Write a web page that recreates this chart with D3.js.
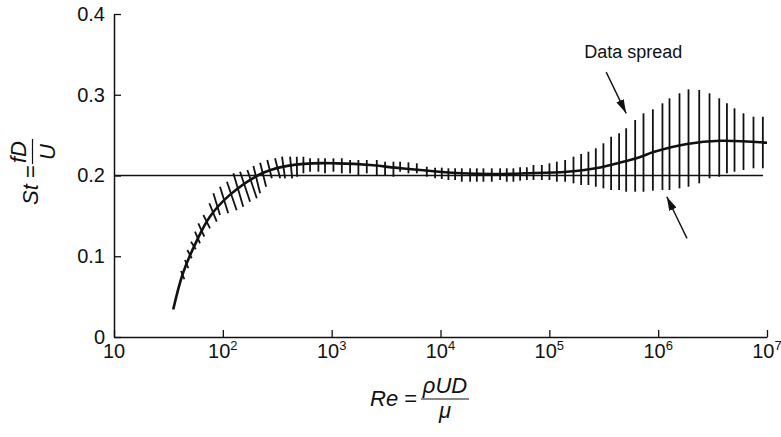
<!DOCTYPE html>
<html>
<head>
<meta charset="utf-8">
<script src="https://cdn.jsdelivr.net/npm/d3@7"></script>
<style>
  html, body { margin: 0; padding: 0; background: #fff; }
  svg text { font-family: "Liberation Sans", Arial, Helvetica, sans-serif; fill: #111; }
</style>
</head>
<body>
<svg id="chart"></svg>
<script>
// mean Strouhal curve
const curveRe = [35, 43, 58, 76, 116, 220, 360, 675, 1110, 2250, 3830, 6500, 15700, 31800, 60000, 145000, 293000, 448000, 684000, 906000, 1.84e6, 3.72e6, 1e7];
const curveSt = [0.034, 0.079, 0.12, 0.149, 0.176, 0.2015, 0.211, 0.215, 0.215, 0.213, 0.2097, 0.2068, 0.2027, 0.2019, 0.2027, 0.2047, 0.21, 0.216, 0.223, 0.229, 0.239, 0.243, 0.2406];

// reference line St = 0.2
const refRe = [10, 9.2e6];
const refSt = [0.2, 0.2];

// data spread strokes: Re and St at the lower and upper ends
const hatchReLo = [44.3, 48.2, 51.8, 56.4, 61.7, 67.6, 76.2, 87.9, 94.2, 112, 134, 154, 178, 205, 220, 250, 282,
  336, 373, 433, 481, 550, 633, 755, 869, 1038, 1239, 1477, 1760, 2102, 2597, 3096, 3694,
  4256, 5074, 6058, 7483, 8920, 10270, 11820, 13620, 15690, 18720, 21560, 24790, 29580, 35300,
  40640, 46750, 53890, 62140, 71500, 85340, 100200, 117200, 139700, 166700, 196000, 228600, 267300, 314000, 369600, 437700,
  508200, 614800, 733100, 893900, 1.095e6, 1.271e6, 1.57e6, 1.9e6, 2.384e6, 2.964e6, 3.641e6, 4.283e6, 5.029e6, 6.081e6, 7.513e6, 9.16e6];
const hatchReHi = [41.3, 44.9, 47.2, 51.0, 55.5, 59.5, 66.2, 75.2, 81.8, 94.2, 109, 125, 144, 168, 191, 220, 256,
  302, 350, 415, 478, 550, 633, 755, 869, 1038, 1239, 1477, 1760, 2102, 2597, 3096, 3694,
  4256, 5074, 6058, 7483, 8920, 10270, 11820, 13620, 15690, 18720, 21560, 24790, 29580, 35300,
  40640, 46750, 53890, 62140, 71500, 85340, 100200, 117200, 139700, 166700, 196000, 228600, 267300, 314000, 369600, 437700,
  508200, 614800, 733100, 893900, 1.095e6, 1.271e6, 1.57e6, 1.9e6, 2.384e6, 2.964e6, 3.641e6, 4.283e6, 5.029e6, 6.081e6, 7.513e6, 9.16e6];
const hatchStLo = [0.0715, 0.0851, 0.0975, 0.1086, 0.116, 0.1242, 0.1346, 0.1428, 0.151, 0.1532, 0.157, 0.1614, 0.1676, 0.1718, 0.178, 0.1861, 0.1965,
  0.1965, 0.1965, 0.1965, 0.1985, 0.2027, 0.2047, 0.2047, 0.2027, 0.2047, 0.2027, 0.2027, 0.2006, 0.2027, 0.2006, 0.2006, 0.1985,
  0.2047, 0.2027, 0.2027, 0.1985, 0.1965, 0.1957, 0.1944, 0.1944, 0.1923, 0.1923, 0.1923, 0.1923, 0.1923, 0.1944,
  0.1923, 0.1923, 0.1936, 0.1944, 0.1944, 0.1944, 0.1944, 0.1923, 0.1923, 0.1903, 0.1882, 0.1882, 0.1861, 0.1841, 0.182, 0.182,
  0.1799, 0.1799, 0.1799, 0.1812, 0.182, 0.182, 0.1841, 0.1861, 0.1903, 0.1965, 0.1985, 0.2027, 0.2047, 0.2068, 0.2089, 0.2089];
const hatchStHi = [0.0817, 0.0954, 0.1077, 0.118, 0.1304, 0.1408, 0.1511, 0.1656, 0.178, 0.1861, 0.1923, 0.2027, 0.2047, 0.2068, 0.2118, 0.2159, 0.2192,
  0.2213, 0.2233, 0.2233, 0.2233, 0.2233, 0.2213, 0.2213, 0.2213, 0.2213, 0.2213, 0.2192, 0.2192, 0.2192, 0.2192, 0.2171, 0.2171,
  0.2171, 0.2163, 0.2151, 0.2109, 0.2097, 0.2097, 0.2089, 0.2089, 0.2089, 0.2089, 0.2089, 0.2089, 0.2089, 0.2089,
  0.2089, 0.2089, 0.2102, 0.2102, 0.213, 0.213, 0.2151, 0.2171, 0.2192, 0.2233, 0.2266, 0.2295, 0.2337, 0.2399, 0.248, 0.2523,
  0.2585, 0.2687, 0.277, 0.282, 0.2894, 0.2956, 0.3018, 0.3067, 0.3059, 0.3018, 0.2956, 0.2894, 0.2832, 0.277, 0.2728, 0.2728];

// axes ticks
const xTicks = [10, 1e2, 1e3, 1e4, 1e5, 1e6, 1e7];
const yTicks = [0, 0.1, 0.2, 0.3, 0.4];

// annotation: arrows (start -> tip) and label
const arrowFromRe = [3.33e5, 1.84e6];
const arrowFromSt = [0.328, 0.1222];
const arrowToRe = [5.08e5, 1.2e6];
const arrowToSt = [0.277, 0.1737];
const noteText = "Data spread";
const noteRe = 2.09e5;
const noteSt = 0.3455;

const width = 781;
const height = 437;
const svg = d3.select("#chart").attr("width", width).attr("height", height);

const x = d3.scaleLog().domain([10, 1e7]).range([114, 767]);
const y = d3.scaleLinear().domain([0, 0.4]).range([337, 14]);

const fontSize = 20;
const labelSize = 22;

// x axis
const xAxis = svg.append("g")
  .attr("transform", `translate(0,${y(0)})`)
  .call(d3.axisBottom(x).tickValues(xTicks).tickSize(-7).tickSizeOuter(0).tickFormat(""));
xAxis.select(".domain").attr("stroke", "#111").attr("stroke-width", 1.5);
xAxis.selectAll(".tick line").attr("stroke", "#111").attr("stroke-width", 1.3);

// x tick labels with superscripts
xTicks.forEach((t) => {
  const e = Math.round(Math.log10(t));
  const txt = svg.append("text")
    .attr("x", x(t))
    .attr("y", y(0) + 21)
    .attr("text-anchor", "middle")
    .style("font-size", fontSize + "px");
  txt.append("tspan").text("10");
  if (e > 1) txt.append("tspan").attr("dy", -8).style("font-size", "13px").text(e);
});

// y axis
const yAxis = svg.append("g")
  .attr("transform", `translate(${x(10)},0)`)
  .call(d3.axisLeft(y).tickValues(yTicks).tickSize(-7).tickSizeOuter(0).tickPadding(9)
    .tickFormat((d) => (d === 0 ? "0" : d.toFixed(1))));
yAxis.select(".domain").attr("stroke", "#111").attr("stroke-width", 1.5);
yAxis.selectAll(".tick line").attr("stroke", "#111").attr("stroke-width", 1.3);
yAxis.selectAll("text").style("font-size", fontSize + "px").attr("fill", "#111");

// reference line
svg.append("path")
  .datum(refRe.map((r, i) => [r, refSt[i]]))
  .attr("fill", "none")
  .attr("stroke", "#111")
  .attr("stroke-width", 1.5)
  .attr("d", d3.line().x((d) => x(d[0])).y((d) => y(d[1])));

// data spread strokes
svg.append("g")
  .selectAll("line")
  .data(hatchReLo.map((r, i) => ({ reLo: r, reHi: hatchReHi[i], lo: hatchStLo[i], hi: hatchStHi[i] })))
  .join("line")
  .attr("x1", (d) => x(d.reLo))
  .attr("y1", (d) => y(d.lo))
  .attr("x2", (d) => x(d.reHi))
  .attr("y2", (d) => y(d.hi))
  .attr("stroke", "#111")
  .attr("stroke-width", 1.8);

// mean curve
svg.append("path")
  .datum(curveRe.map((r, i) => [r, curveSt[i]]))
  .attr("fill", "none")
  .attr("stroke", "#111")
  .attr("stroke-width", 2.6)
  .attr("d", d3.line().curve(d3.curveCatmullRom).x((d) => x(d[0])).y((d) => y(d[1])));

// arrows
svg.append("defs").append("marker")
  .attr("id", "head")
  .attr("viewBox", "0 0 14 8")
  .attr("refX", 14)
  .attr("refY", 4)
  .attr("markerWidth", 14)
  .attr("markerHeight", 8)
  .attr("markerUnits", "userSpaceOnUse")
  .attr("orient", "auto")
  .append("path")
  .attr("d", "M0,0 L14,4 L0,8 Z")
  .attr("fill", "#111");

svg.append("g")
  .selectAll("line")
  .data(arrowFromRe.map((r, i) => ({ r0: r, s0: arrowFromSt[i], r1: arrowToRe[i], s1: arrowToSt[i] })))
  .join("line")
  .attr("x1", (d) => x(d.r0))
  .attr("y1", (d) => y(d.s0))
  .attr("x2", (d) => x(d.r1))
  .attr("y2", (d) => y(d.s1))
  .attr("stroke", "#111")
  .attr("stroke-width", 1.4)
  .attr("marker-end", "url(#head)");

svg.append("text")
  .attr("x", x(noteRe))
  .attr("y", y(noteSt))
  .style("font-size", "18px")
  .text(noteText);

// y axis label: St = fD / U
const yl = svg.append("g").attr("transform", "translate(38,190) rotate(-90)");
yl.append("text").attr("x", -15).attr("y", 0).style("font-size", labelSize + "px")
  .html('<tspan font-style="italic">St</tspan> =');
yl.append("text").attr("x", 38).attr("y", -12).attr("text-anchor", "middle")
  .style("font-size", labelSize + "px").style("font-style", "italic").text("fD");
yl.append("line").attr("x1", 26).attr("x2", 51).attr("y1", -5.5).attr("y2", -5.5)
  .attr("stroke", "#111").attr("stroke-width", 1.2);
yl.append("text").attr("x", 38).attr("y", 17).attr("text-anchor", "middle")
  .style("font-size", labelSize + "px").style("font-style", "italic").text("U");

// x axis label: Re = rho U D / mu
const xl = svg.append("g").attr("transform", "translate(370,406)");
xl.append("text").attr("x", 0).attr("y", 0).style("font-size", labelSize + "px")
  .html('<tspan font-style="italic">Re</tspan> =');
xl.append("text").attr("x", 75).attr("y", -13).attr("text-anchor", "middle")
  .style("font-size", labelSize + "px").style("font-style", "italic").text("\u03C1UD");
xl.append("line").attr("x1", 51).attr("x2", 99).attr("y1", -7).attr("y2", -7)
  .attr("stroke", "#111").attr("stroke-width", 1.2);
xl.append("text").attr("x", 75).attr("y", 12).attr("text-anchor", "middle")
  .style("font-size", labelSize + "px").style("font-style", "italic").text("\u03BC");
</script>
</body>
</html>
